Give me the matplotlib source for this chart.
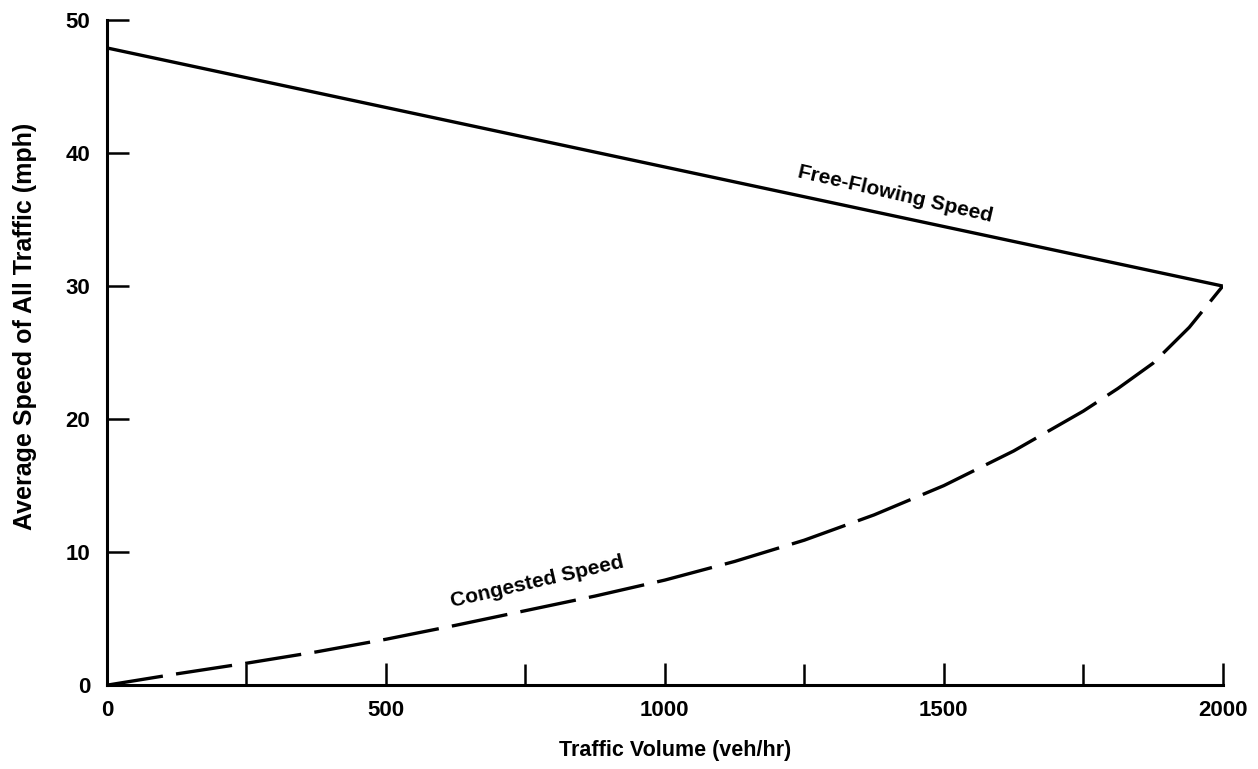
import matplotlib
matplotlib.use("Agg")
import matplotlib.pyplot as plt
from matplotlib.ticker import MultipleLocator

# Data
free_x = [0, 2000]
free_y = [47.9, 30.0]
cong_x = [0, 125, 250, 375, 500, 625, 750, 875, 1000, 1125, 1250, 1375, 1500, 1625, 1750, 1812, 1875, 1940, 2000]
cong_y = [0, 0.85, 1.65, 2.5, 3.45, 4.5, 5.6, 6.7, 7.9, 9.3, 10.9, 12.8, 15.0, 17.6, 20.6, 22.3, 24.2, 26.9, 30.0]
x_major = [0, 500, 1000, 1500, 2000]
y_major = [0, 10, 20, 30, 40, 50]

plt.rcParams['font.family'] = ['Liberation Sans', 'DejaVu Sans']

fig = plt.figure(figsize=(12.58, 7.69), dpi=100)
ax = fig.add_axes([0.085, 0.109, 0.887, 0.865])

ax.plot(free_x, free_y, color='black', lw=2.4, solid_capstyle='butt')
ln, = ax.plot(cong_x, cong_y, color='black', lw=2.4, dash_capstyle='butt')
ln.set_dashes((17, 4))

ax.set_xlim(0, 2000)
ax.set_ylim(0, 50)
for s in ['top', 'right']:
    ax.spines[s].set_visible(False)
for s in ['left', 'bottom']:
    ax.spines[s].set_linewidth(2.2)

ax.set_xticks(x_major)
ax.set_xticklabels([str(v) for v in x_major])
ax.xaxis.set_minor_locator(MultipleLocator(250))
ax.set_yticks(y_major)
ax.set_yticklabels([str(v) for v in y_major])

ax.tick_params(axis='both', which='major', direction='in', length=16, width=1.8,
               labelsize=16)
ax.tick_params(axis='x', which='minor', direction='in', length=15, width=1.8)
ax.tick_params(axis='x', which='major', pad=11)
ax.tick_params(axis='y', which='major', pad=12)
for lab in ax.get_xticklabels() + ax.get_yticklabels():
    lab.set_fontweight('bold')

ax.set_xlabel('Traffic Volume (veh/hr)', fontsize=15.5, fontweight='bold')
ax.set_ylabel('Average Speed of All Traffic (mph)', fontsize=18, fontweight='bold')
ax.xaxis.set_label_coords(0.509, -0.083)
ax.yaxis.set_label_coords(-0.063, 0.54)

ax.text(1412, 36.9, 'Free-Flowing Speed', rotation=-13, fontsize=15, fontweight='bold',
        ha='center', va='center', rotation_mode='anchor')
ax.text(771, 7.8, 'Congested Speed', rotation=13, fontsize=15, fontweight='bold',
        ha='center', va='center', rotation_mode='anchor')

fig.savefig('out.png', dpi=100)
